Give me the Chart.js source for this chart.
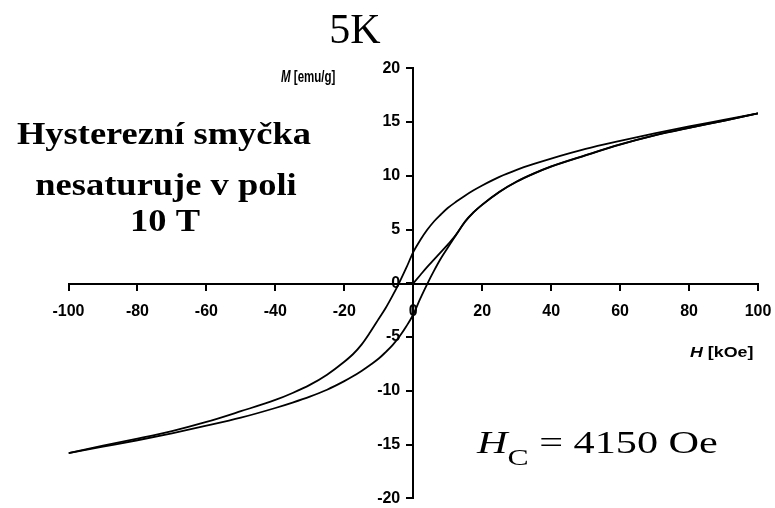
<!DOCTYPE html>
<html>
<head>
<meta charset="utf-8">
<script src="https://cdn.jsdelivr.net/npm/chart.js@4/dist/chart.umd.min.js"></script>
<style>
  html, body { margin: 0; padding: 0; background: #fff; }
  #wrap { width: 775px; height: 508px; }
</style>
</head>
<body>
<div id="wrap"><canvas id="loop" width="775" height="508"></canvas></div>
<script>
// Magnetization loop at 5 K: field H in kOe, magnetization M in emu/g

// virgin (initial) magnetization curve
const virginH = [0, 2, 4, 6, 8, 10, 12.5, 15, 17.5, 20, 25, 30, 35, 40, 50, 60, 70, 80, 90, 100];
const virginM = [0, 0.75, 1.5, 2.2, 2.9, 3.6, 4.55, 5.75, 6.62, 7.32, 8.52, 9.47, 10.22, 10.87, 11.92, 12.92, 13.77, 14.47, 15.12, 15.8];

// descending branch, +100 kOe -> -100 kOe
const descH = [100, 90, 80, 70, 60, 50, 40, 35, 30, 25, 20, 17.5, 15, 12.5, 10, 8, 6, 4, 2, 0, -2, -4.15, -6, -8, -10, -12.5, -15, -17.5, -20, -25, -30, -35, -40, -50, -60, -70, -80, -90, -100];
const descM = [15.8, 15.2, 14.6, 13.95, 13.25, 12.5, 11.6, 11.1, 10.55, 9.9, 9.1, 8.65, 8.15, 7.6, 7.0, 6.4, 5.75, 4.95, 4.0, 2.9, 1.45, 0, -1.15, -2.3, -3.3, -4.55, -5.7, -6.6, -7.3, -8.5, -9.45, -10.2, -10.85, -11.9, -12.9, -13.75, -14.45, -15.1, -15.8];

// ascending branch, -100 kOe -> +100 kOe
const ascH = [-100, -90, -80, -70, -60, -50, -40, -35, -30, -25, -20, -17.5, -15, -12.5, -10, -8, -6, -4, -2, 0, 2, 4.15, 6, 8, 10, 12.5, 15, 17.5, 20, 25, 30, 35, 40, 50, 60, 70, 80, 90, 100];
const ascM = [-15.8, -15.2, -14.6, -13.95, -13.25, -12.5, -11.6, -11.1, -10.55, -9.9, -9.1, -8.65, -8.15, -7.6, -7.0, -6.4, -5.75, -4.95, -4.0, -2.9, -1.45, 0, 1.15, 2.3, 3.3, 4.55, 5.7, 6.6, 7.3, 8.5, 9.45, 10.2, 10.85, 11.9, 12.9, 13.75, 14.45, 15.1, 15.8];

// axis ranges and tick steps
const hRange = [-100, 100];
const hStep = 20;
const mRange = [-20, 20];
const mStep = 5;

const pts = (xs, ys) => xs.map((x, i) => ({ x: x, y: ys[i] }));

const SANS = '"Liberation Sans", Arial, sans-serif';
const SERIF = '"Liberation Serif", "Times New Roman", serif';

// draw a run of text pieces, optionally stretched horizontally
function drawRun(ctx, x, y, sx, pieces) {
  ctx.save();
  ctx.translate(x, y);
  ctx.scale(sx, 1);
  ctx.textAlign = 'left';
  ctx.textBaseline = 'alphabetic';
  let cx = 0;
  for (const p of pieces) {
    ctx.font = p.font;
    ctx.fillText(p.text, cx + (p.dx || 0), p.dy || 0);
    cx += ctx.measureText(p.text).width + (p.dx || 0);
  }
  ctx.restore();
}

function drawCentered(ctx, text, cx, y, sx, font) {
  ctx.save();
  ctx.font = font;
  ctx.translate(cx, y);
  ctx.scale(sx, 1);
  ctx.textAlign = 'center';
  ctx.textBaseline = 'alphabetic';
  ctx.fillText(text, 0, 0);
  ctx.restore();
}

const labelsPlugin = {
  id: 'loopLabels',
  afterDraw(chart) {
    const ctx = chart.ctx;
    ctx.save();
    ctx.fillStyle = '#000';

    // title
    drawCentered(ctx, '5K', 355, 43, 1, '42px ' + SERIF);

    // axis titles
    drawRun(ctx, 281, 81.5, 0.72, [
      { text: 'M', font: 'italic bold 16px ' + SANS },
      { text: ' [emu/g]', font: 'bold 16px ' + SANS }
    ]);
    drawRun(ctx, 690, 357, 1.15, [
      { text: 'H', font: 'italic bold 15.5px ' + SANS },
      { text: ' [kOe]', font: 'bold 15.5px ' + SANS }
    ]);

    // note on the left
    const noteFont = 'bold 32px ' + SERIF;
    drawCentered(ctx, 'Hysterezní smyčka', 164, 144, 1.14, noteFont);
    drawCentered(ctx, 'nesaturuje v poli', 166, 195, 1.14, noteFont);
    drawCentered(ctx, '10 T', 165, 231, 1.14, noteFont);

    // coercive field
    drawRun(ctx, 477, 453, 1.32, [
      { text: 'H', font: 'italic 32px ' + SERIF },
      { text: 'C', font: '24px ' + SERIF, dy: 12 },
      { text: ' = 4150 Oe', font: '32px ' + SERIF }
    ]);
    ctx.restore();
  }
};

const lineStyle = {
  showLine: true,
  borderColor: '#000',
  backgroundColor: '#000',
  borderWidth: 1.8,
  pointRadius: 0,
  fill: false,
  cubicInterpolationMode: 'monotone'
};

new Chart(document.getElementById('loop'), {
  type: 'scatter',
  data: {
    datasets: [
      Object.assign({ label: 'virgin', data: pts(virginH, virginM) }, lineStyle),
      Object.assign({ label: 'descending', data: pts(descH, descM) }, lineStyle),
      Object.assign({ label: 'ascending', data: pts(ascH, ascM) }, lineStyle)
    ]
  },
  options: {
    responsive: false,
    animation: false,
    layout: { padding: { left: 68.5, right: 17, top: 68.3, bottom: 9.7 } },
    plugins: { legend: { display: false }, tooltip: { enabled: false } },
    scales: {
      x: {
        type: 'linear',
        position: 'center',
        min: hRange[0],
        max: hRange[1],
        // tall line box pushes the labels below the axis while keeping the side padding small
        ticks: { stepSize: hStep, color: '#000', font: { family: SANS, size: 16, weight: 'bold', lineHeight: 2.45 }, padding: 3, maxRotation: 0, autoSkip: false },
        grid: { drawOnChartArea: false, drawTicks: true, tickLength: 6, color: '#000', lineWidth: 2 },
        border: { display: true, color: '#000', width: 2 }
      },
      y: {
        type: 'linear',
        position: 'center',
        min: mRange[0],
        max: mRange[1],
        ticks: { stepSize: mStep, color: '#000', font: { family: SANS, size: 16, weight: 'bold', lineHeight: 0.3 }, padding: 7, autoSkip: false },
        grid: { drawOnChartArea: false, drawTicks: true, tickLength: 6, color: '#000', lineWidth: 2 },
        border: { display: true, color: '#000', width: 2 }
      }
    }
  },
  plugins: [labelsPlugin]
});
</script>
</body>
</html>
